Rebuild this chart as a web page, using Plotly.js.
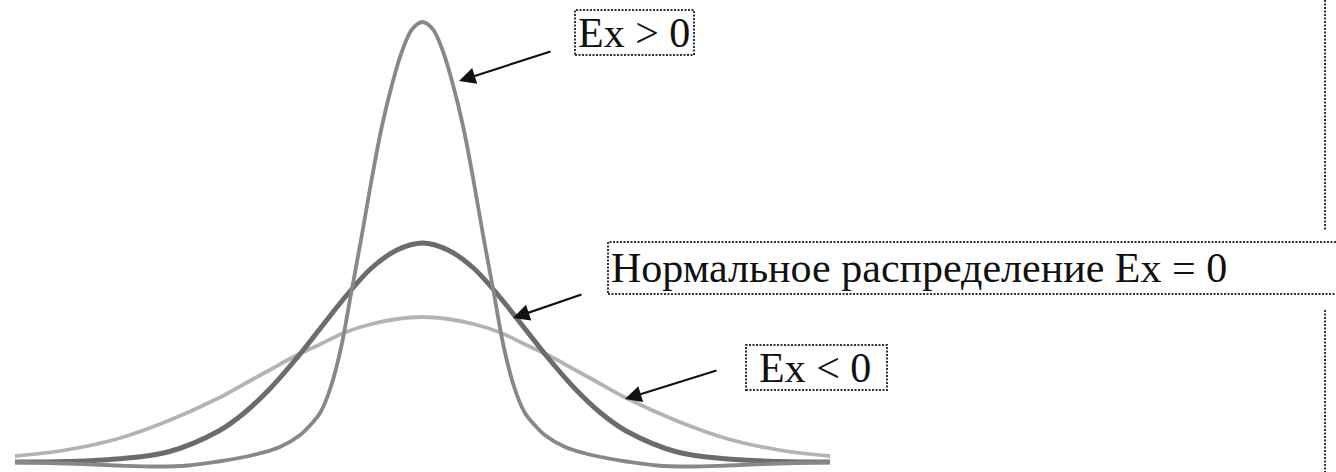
<!DOCTYPE html>
<html>
<head>
<meta charset="utf-8">
<script src="https://cdn.plot.ly/plotly-3.0.1.min.js"></script>
<style>html,body{margin:0;padding:0;background:#fff;}#chart{width:1336px;height:472px;}</style>
</head>
<body>
<div id="chart"></div>
<script>
// ---- data ----
// x in units of the normal curve's standard deviation; y = height of curve above the baseline
var xWide = [-4,-3.5,-3,-2.5,-2,-1.75,-1.5,-1.25,-1,-0.75,-0.5,-0.25,0,0.25,0.5,0.75,1,1.25,1.5,1.75,2,2.5,3,3.5,4];
var normalY = [0,0.5,3,10,31,49,73,102,134,166,194,212,219,212,194,166,134,102,73,49,31,10,3,0.5,0];
var negY = [6,12,23,41,64,78,92,106,118,130,138,143,145,143,138,130,118,106,92,78,64,41,23,12,6];

var xPeak = [-4,-3.5,-3,-2.6,-2.3,-2,-1.8,-1.6,-1.4,-1.2,-1.1,-1,-0.9,-0.8,-0.7,-0.6,-0.5,-0.4,-0.3,-0.2,-0.1,0,
             0.1,0.2,0.3,0.4,0.5,0.6,0.7,0.8,0.9,1,1.1,1.2,1.4,1.6,1.8,2,2.3,2.6,3,3.5,4];
var posY = [0,-1.5,-3.5,-4.5,-3.5,0.5,4,8.5,15,27,37,50,75,114,169,224,282,335,377,411,433,440,
            433,411,377,335,282,224,169,114,75,50,37,27,15,8.5,4,0.5,-3.5,-4.5,-3.5,-1.5,0];

var labels = ['Ex > 0', 'Нормальное распределение Ex = 0', 'Ex < 0'];

// ---- layout helpers (pixel -> paper) ----
var W = 1336, H = 472;
function px(x){ return x / W; }
function py(y){ return 1 - y / H; }

var traces = [
  {x: xWide, y: negY, mode: 'lines', line: {color: '#b3b3b3', width: 3.8, shape: 'spline', smoothing: 1}, hoverinfo: 'skip'},
  {x: xWide, y: normalY, mode: 'lines', line: {color: '#6c6c6c', width: 5, shape: 'spline', smoothing: 1}, hoverinfo: 'skip'},
  {x: xPeak, y: posY, mode: 'lines', line: {color: '#888888', width: 3.8, shape: 'spline', smoothing: 1}, hoverinfo: 'skip'}
];

var dotLine = {color: '#333', width: 2, dash: '2px,1.5px'};
function box(x0, y0, x1, y1){
  return {type: 'rect', xref: 'paper', yref: 'paper', x0: px(x0), x1: px(x1), y0: py(y1), y1: py(y0), line: dotLine, fillcolor: 'rgba(0,0,0,0)'};
}
function vline(x, y0, y1){
  return {type: 'line', xref: 'paper', yref: 'paper', x0: px(x), x1: px(x), y0: py(y0), y1: py(y1), line: dotLine};
}

var font = {family: '"Liberation Serif", "Times New Roman", serif', size: 42, color: '#111'};
function label(text, x, y){
  return {text: text, xref: 'paper', yref: 'paper', x: px(x), y: py(y), xanchor: 'left', yanchor: 'middle', showarrow: false, font: font};
}
function arrow(tipX, tipY, tailX, tailY){
  return {text: '', xref: 'paper', yref: 'paper', x: px(tipX), y: py(tipY), axref: 'pixel', ayref: 'pixel',
          ax: tailX - tipX, ay: tailY - tipY, showarrow: true, arrowhead: 2, arrowsize: 1.5, arrowwidth: 2.2,
          arrowcolor: '#111', standoff: 0};
}

var layout = {
  width: W, height: H,
  margin: {l: 0, r: 0, t: 0, b: 0},
  paper_bgcolor: '#fff', plot_bgcolor: '#fff',
  showlegend: false,
  xaxis: {range: [-4.147, 8.967], visible: false, fixedrange: true},
  yaxis: {range: [-10, 462], visible: false, fixedrange: true},
  shapes: [
    box(575, 10, 694, 55),
    box(608, 242, 1345, 294),
    box(746, 345, 887, 390),
    vline(1325, 0, 230),
    vline(1325, 310, 472)
  ],
  annotations: [
    label(labels[0], 576, 33),
    label(labels[1], 609, 268),
    label(labels[2], 757, 368),
    arrow(459, 81, 552, 51),
    arrow(513, 318, 583, 294),
    arrow(625, 399, 718, 370)
  ]
};

Plotly.newPlot('chart', traces, layout, {displayModeBar: false, staticPlot: true});
</script>
</body>
</html>
